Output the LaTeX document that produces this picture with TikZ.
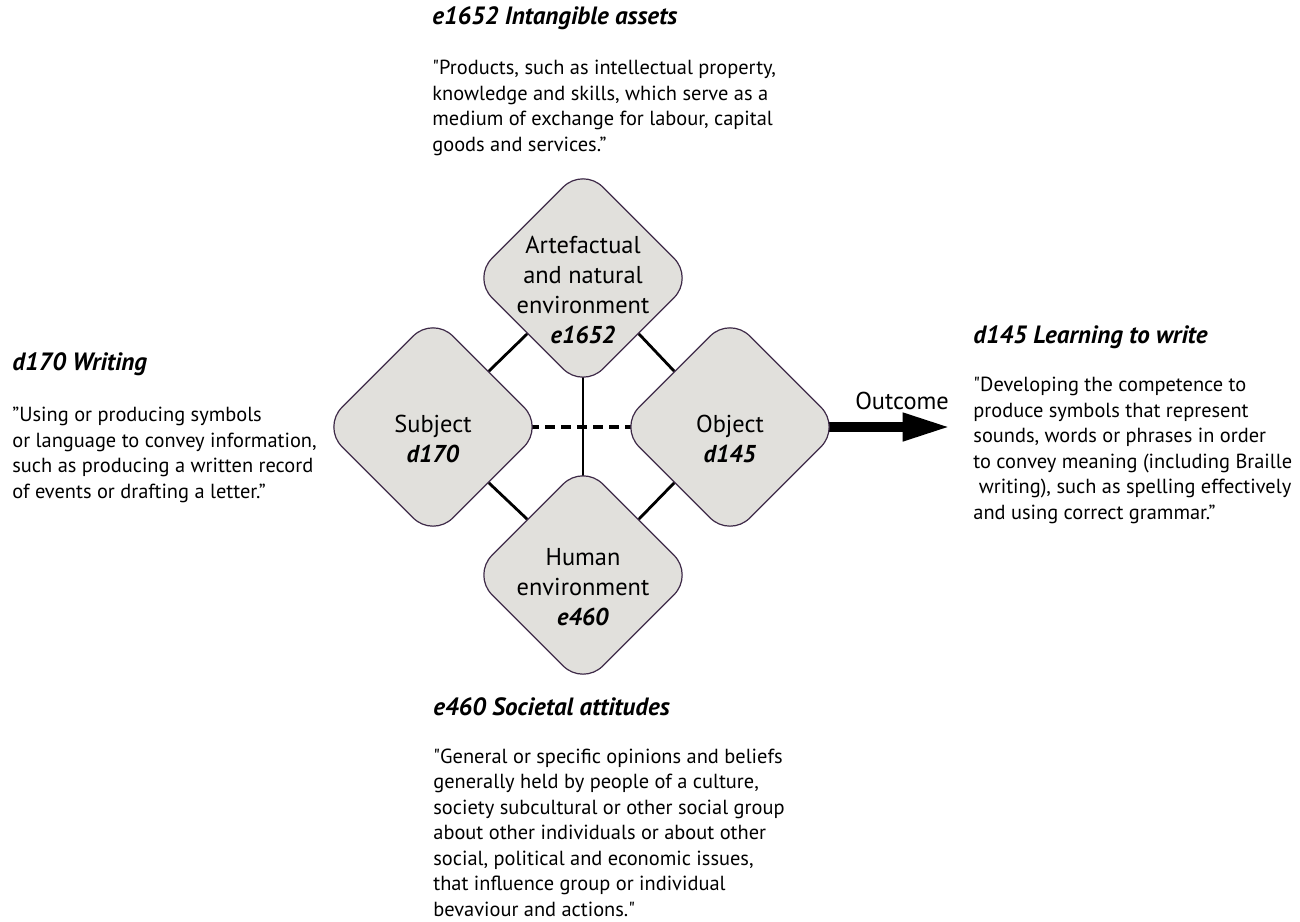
\documentclass[tikz,border=0pt]{standalone}
\usepackage{fontspec}
\setmainfont{PT Sans}
\usetikzlibrary{shapes.geometric,arrows.meta,positioning,backgrounds}
\definecolor{envfill}{RGB}{225,224,220}
\definecolor{envline}{RGB}{62,42,72}
\tikzset{
diam/.style = {diamond, aspect=1, draw=envline, fill=envfill, line width=0.6pt, rounded corners=14pt, minimum size=111pt, inner sep=0pt},
envtext/.style = {align=center, font=\fontsize{12.2}{15}\selectfont, yshift=-6pt},
head/.style = {anchor=base west, inner sep=0pt, font=\fontsize{12.5}{14}\selectfont\bfseries\itshape},
quote/.style = {anchor=base west, inner sep=0pt, align=left, font=\fontsize{10.2}{12.75}\selectfont},
link/.style = {line width=1.4pt},
}
\newcommand{\code}[1]{\textbf{\textit{#1}}}
\newcommand{\dq}{\textquotedbl}

\begin{document}
\begin{tikzpicture}[x=0.5pt, y=-0.5pt, on grid]
    \useasboundingbox (0,0) rectangle (1300,921);
    % the four corners of the activity
    \node [diam, label={[envtext]center:Artefactual\\and natural\\environment\\\code{e1652}}] (art) at (583,278) {};
    \node [diam, below left=74.5pt and 75pt of art, label={[envtext]center:Subject\\\code{d170}}] (subj) {};
    \node [diam, below right=74.5pt and 73.5pt of art, label={[envtext]center:Object\\\code{d145}}] (obj) {};
    \node [diam, below=148.5pt of art, label={[envtext]center:Human\\environment\\\code{e460}}] (hum) {};
    \coordinate [right=54.5pt of obj.east] (outc);
    \begin{scope}[on background layer]
        \draw [link] (art.south west) -- (subj.north east);
        \draw [link] (art.south east) -- (obj.north west);
        \draw [link] (subj.south east) -- (hum.north west);
        \draw [link] (obj.south west) -- (hum.north east);
        \draw [link] (art.center) -- (hum.center);
        \draw [line width=2pt, dash pattern=on 5pt off 3pt] (subj.center) -- (obj.center);
        \draw [line width=5pt, -{Triangle[length=24pt,width=13pt]}] (obj.center) -- node[pos=0.78, above=6pt, inner sep=0pt, font=\fontsize{12.2}{14}\selectfont]{Outcome} (outc);
    \end{scope}
    % definitions around the diagram (quotes sit on their last line)
    \node [head] (arth) at (432,25) {e1652 Intangible assets};
    \node [quote] (artq) at (432,151) {\dq Products, such as intellectual property,\\knowledge and skills, which serve as a\\medium of exchange for labour, capital\\goods and services.”};
    \node [head] (subjh) at (12,370) {d170 Writing};
    \node [quote] (subjq) at (12,498) {”Using or producing symbols\\or language to convey information,\\such as producing a written record\\of events or drafting a letter.”};
    \node [head] (objh) at (973,343) {d145 Learning to write};
    \node [quote] (objq) at (973,519) {\dq Developing the competence to\\produce symbols that represent\\sounds, words or phrases in order\\to convey meaning (including Braille\\\ writing), such as spelling effectively\\and using correct grammar.”};
    \node [head] (humh) at (433,715) {e460 Societal attitudes};
    \node [quote] (humq) at (433,916) {\dq General or specific opinions and beliefs\\generally held by people of a culture,\\society subcultural or other social group\\about other individuals or about other\\social, political and economic issues,\\that influence group or individual\\bevaviour and actions.\dq};
\end{tikzpicture}
\end{document}
